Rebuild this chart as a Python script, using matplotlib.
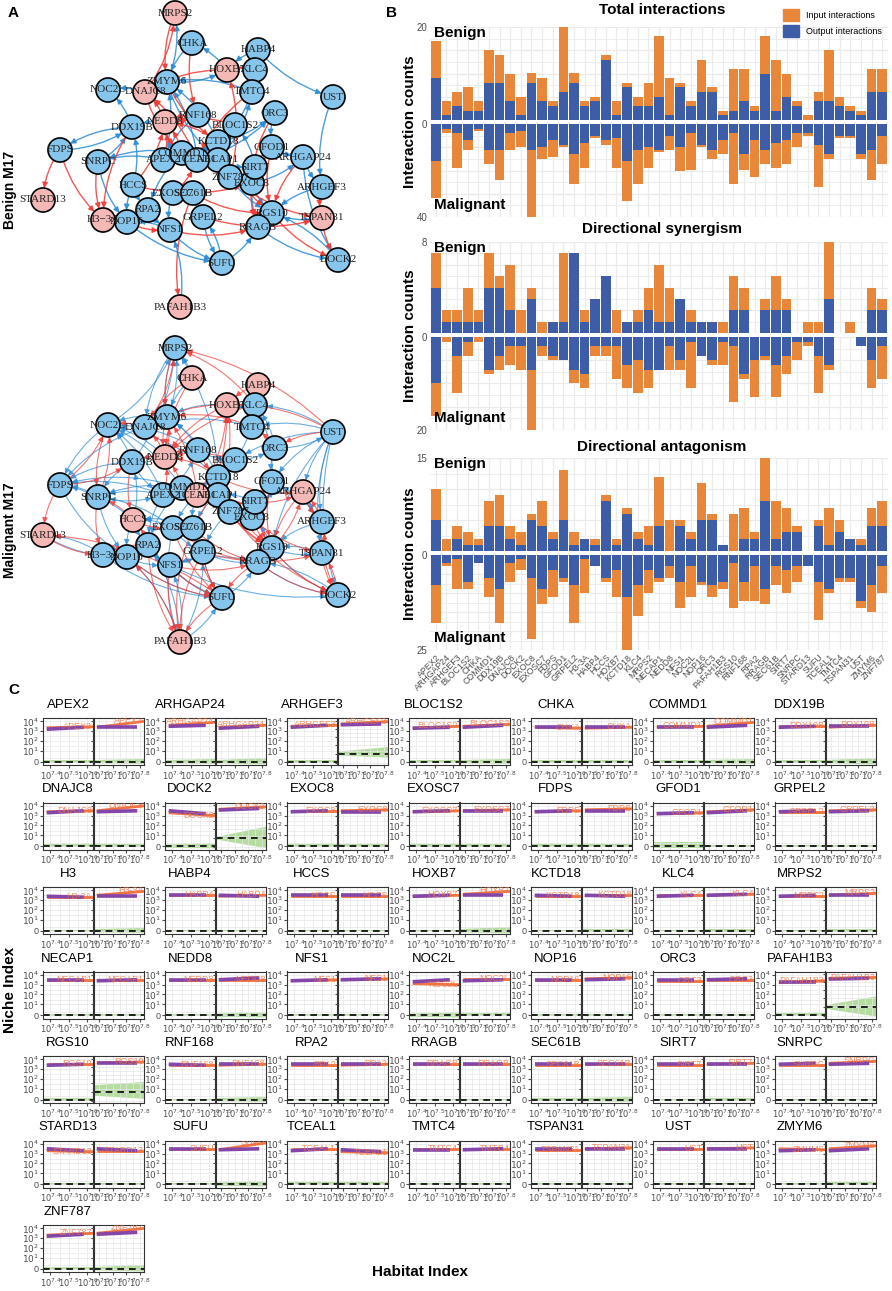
import matplotlib
matplotlib.use('Agg')
import matplotlib.pyplot as plt
from matplotlib.patches import FancyArrowPatch, Patch
from matplotlib.ticker import MultipleLocator, FuncFormatter, FixedLocator, NullFormatter

W, H = 892, 1291
plt.rcParams['font.family'] = ['Liberation Sans', 'DejaVu Sans']
fig = plt.figure(figsize=(W / 100, H / 100), dpi=100)

ORANGE = '#E8873A'
BLUE = '#3D5DA6'
GRID = '#EBEBEB'

genes = ['APEX2', 'ARHGAP24', 'ARHGEF3', 'BLOC1S2', 'CHKA', 'COMMD1', 'DDX19B', 'DNAJC8',
         'DOCK2', 'EXOC8', 'EXOSC7', 'FDPS', 'GFOD1', 'GRPEL2', 'H3-3A', 'HABP4', 'HCCS',
         'HOXB7', 'KCTD18', 'KLC4', 'MRPS2', 'NECAP1', 'NEDD8', 'NFS1', 'NOC2L', 'NOP16',
         'ORC3', 'PAFAH1B3', 'RGS10', 'RNF168', 'RPA2', 'RRAGB', 'SEC61B', 'SIRT7', 'SNRPC',
         'STARD13', 'SUFU', 'TCEAL1', 'TMTC4', 'TSPAN31', 'UST', 'ZMYM6', 'ZNF787']

# ---- panel B data: output (blue) and input (orange) counts
total_benign_out = [9, 1, 3, 2, 2, 8, 8, 4, 1, 8, 4, 3, 6, 8, 3, 4, 13, 1, 7, 3, 3, 5, 1, 7, 3, 6,
                    6, 1, 2, 4, 2, 10, 2, 5, 3, 0, 4, 4, 3, 2, 1, 6, 6]
total_benign_in = [8, 3, 3, 5, 2, 7, 6, 6, 4, 2, 5, 1, 14, 2, 1, 1, 1, 3, 1, 2, 5, 13, 8, 1, 1, 7,
                   1, 1, 9, 7, 1, 8, 11, 5, 1, 1, 2, 11, 2, 1, 1, 5, 5]
total_malig_out = [16, 2, 4, 7, 2, 11, 11, 4, 3, 11, 10, 7, 9, 13, 8, 5, 7, 6, 16, 11, 10, 11, 5,
                   10, 4, 9, 11, 7, 4, 13, 7, 11, 8, 7, 4, 4, 9, 13, 5, 5, 13, 11, 5]
total_malig_in = [16, 2, 15, 4, 1, 6, 13, 7, 7, 29, 5, 7, 1, 13, 11, 1, 2, 13, 17, 15, 9, 1, 6,
                  10, 16, 1, 4, 6, 22, 7, 16, 6, 11, 10, 6, 1, 18, 2, 1, 1, 2, 13, 12]

syn_benign_out = [4, 1, 1, 1, 1, 4, 4, 2, 0, 3, 0, 1, 1, 7, 1, 3, 5, 0, 1, 1, 2, 1, 1, 3, 1, 1,
                  1, 0, 2, 2, 0, 2, 2, 2, 0, 0, 0, 3, 0, 0, 0, 2, 2]
syn_benign_in = [3, 1, 1, 3, 1, 3, 1, 4, 2, 1, 1, 0, 6, 0, 1, 0, 0, 2, 0, 1, 2, 5, 3, 0, 1, 0,
                 0, 1, 3, 2, 0, 1, 3, 1, 0, 1, 1, 5, 0, 1, 0, 2, 1]
syn_malig_out = [10, 0, 4, 1, 0, 7, 4, 2, 2, 7, 2, 4, 5, 7, 8, 2, 2, 2, 6, 5, 7, 7, 2, 5, 1, 4,
                 5, 1, 2, 8, 5, 4, 6, 4, 1, 1, 4, 6, 0, 0, 2, 5, 2]
syn_malig_in = [7, 1, 8, 3, 1, 1, 3, 4, 5, 13, 2, 1, 0, 3, 3, 2, 2, 7, 5, 7, 4, 0, 5, 2, 10, 0,
                1, 5, 12, 1, 8, 1, 7, 4, 4, 1, 8, 1, 0, 0, 0, 6, 7]

ant_benign_out = [5, 0, 2, 1, 1, 4, 4, 2, 1, 5, 4, 2, 5, 1, 2, 1, 8, 1, 6, 2, 1, 4, 0, 4, 2, 5,
                  5, 1, 0, 2, 2, 8, 2, 3, 3, 0, 4, 1, 3, 2, 1, 4, 4]
ant_benign_in = [5, 2, 2, 2, 1, 4, 5, 2, 2, 1, 4, 1, 8, 2, 0, 1, 1, 1, 1, 1, 3, 8, 5, 1, 1, 6,
                 1, 0, 6, 5, 1, 7, 6, 4, 1, 0, 1, 6, 2, 0, 1, 3, 4]
ant_malig_out = [8, 2, 1, 7, 2, 6, 9, 2, 1, 6, 9, 4, 6, 8, 1, 3, 6, 4, 11, 8, 4, 6, 3, 7, 3, 7,
                 8, 7, 2, 7, 3, 9, 3, 4, 3, 3, 7, 9, 6, 6, 12, 8, 3]
ant_malig_in = [10, 1, 8, 2, 0, 5, 9, 5, 3, 16, 4, 7, 1, 10, 9, 0, 1, 7, 14, 8, 6, 1, 3, 7, 8, 1,
                3, 2, 12, 5, 9, 4, 5, 6, 4, 0, 10, 1, 1, 1, 2, 7, 7]

section_titles = ['Total interactions', 'Directional synergism', 'Directional antagonism']
benign_max = [20, 8, 15]
malig_max = [40, 20, 25]

# ---- panel A data: node layout (pixels) and directed edges
node_x = [163, 303, 322, 235, 192, 182, 132, 145, 338, 252, 173, 60, 272, 203, 103, 258, 133,
          227, 218, 255, 175, 218, 165, 170, 108, 127, 275, 180, 272, 198, 148, 258, 193, 255,
          98, 43, 222, 197, 252, 322, 333, 167, 230]
node_y = [160, 157, 187, 125, 43, 153, 127, 92, 260, 183, 193, 150, 147, 217, 220, 50, 185,
          70, 142, 70, 13, 160, 122, 230, 90, 222, 113, 307, 213, 115, 210, 227, 193, 167,
          162, 200, 263, 160, 92, 218, 97, 82, 177]
benign_pink = ['MRPS2', 'HOXB7', 'DNAJC8', 'NEDD8', 'STARD13', 'H3-3A', 'TSPAN31', 'PAFAH1B3']
malig_pink = ['CHKA', 'HABP4', 'HOXB7', 'NEDD8', 'TCEAL1', 'ARHGAP24', 'HCCS', 'STARD13', 'PAFAH1B3']

benign_red = """FDPS>STARD13 FDPS>H3-3A DNAJC8>MRPS2 MRPS2>ZMYM6 NEDD8>DNAJC8 COMMD1>NEDD8
KCTD18>NEDD8 SEC61B>PAFAH1B3 NFS1>RRAGB RGS10>DOCK2 TSPAN31>DOCK2 ARHGEF3>TSPAN31 GFOD1>RGS10
HOXB7>DNAJC8 KLC4>HOXB7 ZNF787>HOXB7 CHKA>RNF168 ZMYM6>KCTD18 APEX2>NEDD8 TCEAL1>DNAJC8
EXOC8>RRAGB HCCS>NEDD8 RPA2>NOP16 NOP16>NFS1 SIRT7>GFOD1 ARHGAP24>RGS10 NECAP1>EXOC8
SEC61B>RGS10 DDX19B>H3-3A BLOC1S2>NEDD8 TMTC4>TCEAL1 EXOSC7>TCEAL1 NEDD8>RNF168 DNAJC8>COMMD1
GRPEL2>TSPAN31 ORC3>EXOC8 KCTD18>RGS10 RNF168>NEDD8 ZNF787>TSPAN31 HCCS>EXOC8 SNRPC>H3-3A"""
benign_blue = """HABP4>UST UST>ARHGEF3 HOXB7>CHKA ZMYM6>MRPS2 DDX19B>FDPS FDPS>DDX19B SNRPC>DDX19B
SNRPC>NOP16 DDX19B>NOC2L HCCS>DDX19B NFS1>SUFU GRPEL2>SUFU NOP16>SUFU RRAGB>DOCK2 APEX2>ZMYM6
TCEAL1>ZMYM6 KCTD18>ZMYM6 TMTC4>ZMYM6 HABP4>HOXB7 BLOC1S2>KLC4 ORC3>GFOD1 GFOD1>ARHGAP24
ARHGAP24>ARHGEF3 ARHGEF3>RGS10 RRAGB>RGS10 SIRT7>RRAGB EXOC8>RGS10 ZNF787>RGS10 NECAP1>TMTC4
SEC61B>GRPEL2 COMMD1>RPA2 RPA2>NFS1 EXOSC7>NFS1 NFS1>NOP16 HCCS>RPA2 KCTD18>BLOC1S2
SIRT7>BLOC1S2 TCEAL1>ORC3 RNF168>APEX2 ZMYM6>NECAP1 APEX2>SNRPC COMMD1>SNRPC NEDD8>DDX19B
DNAJC8>NOC2L RGS10>TSPAN31 DOCK2>RGS10 SUFU>GRPEL2 ZMYM6>HOXB7 KLC4>TMTC4 GFOD1>SIRT7
SEC61B>EXOSC7 COMMD1>KCTD18 PAFAH1B3>NFS1 DNAJC8>ZMYM6 CHKA>ZMYM6 ARHGAP24>DOCK2 SUFU>RRAGB
EXOC8>ARHGAP24 HCCS>NOP16 H3-3A>NOP16 NECAP1>SIRT7 KCTD18>ORC3"""
malig_red = """UST>MRPS2 KLC4>MRPS2 DNAJC8>MRPS2 CHKA>NEDD8 HOXB7>NEDD8 HOXB7>DNAJC8 KLC4>NEDD8
HABP4>HOXB7 UST>HOXB7 FDPS>NOC2L SNRPC>NOC2L NOC2L>SNRPC FDPS>DDX19B SUFU>STARD13 STARD13>H3-3A
RPA2>H3-3A PAFAH1B3>NOP16 NFS1>PAFAH1B3 GRPEL2>PAFAH1B3 SEC61B>PAFAH1B3 RPA2>PAFAH1B3
NOP16>SUFU NFS1>SUFU GRPEL2>SUFU EXOSC7>SUFU RRAGB>SUFU SEC61B>SUFU RGS10>DOCK2 TSPAN31>DOCK2
ARHGEF3>DOCK2 RRAGB>DOCK2 ZNF787>DOCK2 ARHGAP24>RGS10 GFOD1>RGS10 SIRT7>RGS10 EXOC8>RGS10
NECAP1>RGS10 KCTD18>RGS10 ZNF787>RGS10 TCEAL1>EXOC8 COMMD1>NEDD8 KCTD18>NEDD8 APEX2>NEDD8
ZMYM6>NEDD8 RNF168>NEDD8 BLOC1S2>NEDD8 NEDD8>DNAJC8 NEDD8>ZMYM6 TMTC4>ZMYM6 TCEAL1>ZMYM6
ORC3>TMTC4 UST>ORC3 ARHGAP24>ARHGEF3 ARHGEF3>ARHGAP24 TSPAN31>ARHGEF3 HCCS>EXOSC7 HCCS>SNRPC
DDX19B>HCCS RPA2>HCCS NOP16>RPA2 H3-3A>RPA2 SNRPC>H3-3A FDPS>STARD13 COMMD1>APEX2 TCEAL1>SIRT7
NECAP1>ZNF787 ZNF787>EXOC8 SIRT7>EXOC8 GFOD1>SIRT7 BLOC1S2>KCTD18 RNF168>KCTD18 CHKA>DNAJC8
MRPS2>ZMYM6 DNAJC8>NOC2L NEDD8>DDX19B SEC61B>RRAGB EXOSC7>RRAGB NFS1>RRAGB GRPEL2>TSPAN31
EXOC8>TSPAN31 TCEAL1>HOXB7 NECAP1>HOXB7 SEC61B>HOXB7 KCTD18>ARHGAP24 SIRT7>ARHGAP24
RGS10>ARHGAP24 SUFU>PAFAH1B3 DOCK2>TSPAN31"""
malig_blue = """ZMYM6>MRPS2 NOC2L>MRPS2 KCTD18>MRPS2 DDX19B>MRPS2 DNAJC8>FDPS NOC2L>FDPS DDX19B>FDPS
SNRPC>FDPS COMMD1>FDPS APEX2>FDPS HCCS>FDPS NEDD8>NOC2L APEX2>NOC2L COMMD1>NOC2L DDX19B>NOC2L
ZMYM6>NOC2L KCTD18>NOC2L RNF168>NOC2L H3-3A>STARD13 STARD13>NOP16 SNRPC>NOP16 FDPS>NOP16
DDX19B>SNRPC COMMD1>SNRPC APEX2>SNRPC EXOSC7>SNRPC HABP4>KLC4 HOXB7>KLC4 BLOC1S2>KLC4
TMTC4>KLC4 UST>KLC4 UST>TMTC4 UST>GFOD1 UST>ARHGEF3 UST>TSPAN31 UST>ARHGAP24 UST>BLOC1S2
UST>RGS10 UST>DOCK2 ORC3>UST RRAGB>DOCK2 NFS1>DOCK2 RGS10>DOCK2 RGS10>TSPAN31 ARHGEF3>RGS10
ARHGAP24>ARHGEF3 TSPAN31>RGS10 RRAGB>RGS10 SUFU>RRAGB NFS1>SUFU GRPEL2>SUFU NOP16>SUFU
RPA2>SUFU H3-3A>SUFU PAFAH1B3>NFS1 PAFAH1B3>GRPEL2 PAFAH1B3>RPA2 PAFAH1B3>NOP16 PAFAH1B3>SUFU
EXOSC7>PAFAH1B3 NOP16>NFS1 RPA2>NFS1 NFS1>GRPEL2 SEC61B>GRPEL2 EXOSC7>GRPEL2 ZNF787>GRPEL2
COMMD1>RPA2 APEX2>RPA2 HCCS>RPA2 SEC61B>EXOSC7 KCTD18>EXOSC7 NECAP1>SEC61B TCEAL1>SEC61B
ZNF787>SIRT7 EXOC8>SIRT7 GFOD1>EXOC8 ORC3>GFOD1 BLOC1S2>ORC3 KCTD18>BLOC1S2 RNF168>BLOC1S2
NECAP1>KCTD18 TCEAL1>KCTD18 COMMD1>KCTD18 APEX2>RNF168 RNF168>ZMYM6 KCTD18>ZMYM6 ZMYM6>DNAJC8
DNAJC8>ZMYM6 CHKA>ZMYM6 TMTC4>DNAJC8 HOXB7>ZMYM6 NEDD8>DDX19B DDX19B>APEX2 APEX2>COMMD1
SNRPC>APEX2 HCCS>DDX19B EXOSC7>HCCS SEC61B>HCCS ZNF787>NECAP1 SIRT7>NECAP1 EXOC8>ZNF787
RGS10>EXOC8 ARHGAP24>SIRT7 ARHGEF3>GFOD1 TSPAN31>ARHGAP24 DOCK2>RRAGB RRAGB>NFS1 GRPEL2>RRAGB
HCCS>NOP16 NOP16>H3-3A MRPS2>ZMYM6 MRPS2>DNAJC8 CHKA>MRPS2 ORC3>KLC4 GFOD1>KLC4"""

# ---- panel C data: log10 level (start, end) of the fitted lines, green band height (start, end)
purple_benign = [(3.2, 3.4), (3.5, 3.6), (3.4, 3.6), (3.3, 3.4), (3.4, 3.4), (3.4, 3.4), (3.4, 3.5),
                 (3.3, 3.5), (3.5, 3.2), (3.4, 3.5), (3.4, 3.5), (3.4, 3.5), (3.2, 3.3), (3.4, 3.5),
                 (3.4, 3.3), (3.5, 3.5), (3.5, 3.5), (3.4, 3.5), (3.5, 3.4), (3.4, 3.5), (3.4, 3.5),
                 (3.5, 3.5), (3.5, 3.5), (3.4, 3.5), (3.3, 3.5), (3.5, 3.5), (3.5, 3.5), (3.3, 3.3),
                 (3.4, 3.5), (3.5, 3.4), (3.5, 3.5), (3.5, 3.5), (3.5, 3.5), (3.5, 3.5), (3.5, 3.6),
                 (3.5, 3.3), (3.5, 3.5), (3.3, 3.5), (3.4, 3.4), (3.5, 3.5), (3.5, 3.5), (3.3, 3.4),
                 (3.2, 3.4)]
orange_benign = [(3.35, 3.45), (3.6, 3.9), (3.5, 3.6), (3.3, 3.5), (3.4, 3.3), (3.4, 3.5), (3.5, 3.5),
                 (3.4, 3.5), (3.3, 3.0), (3.5, 3.5), (3.4, 3.5), (3.4, 3.5), (3.2, 3.3), (3.4, 3.4),
                 (3.3, 3.3), (3.5, 3.5), (3.4, 3.4), (3.4, 3.5), (3.4, 3.4), (3.5, 3.5), (3.4, 3.4),
                 (3.5, 3.5), (3.5, 3.5), (3.4, 3.5), (3.1, 3.0), (3.5, 3.5), (3.4, 3.4), (3.2, 3.4),
                 (3.5, 3.5), (3.4, 3.4), (3.4, 3.4), (3.5, 3.5), (3.4, 3.4), (3.4, 3.4), (3.4, 3.4),
                 (3.3, 3.2), (3.5, 3.5), (3.5, 3.5), (3.5, 3.5), (3.4, 3.4), (3.5, 3.5), (3.5, 3.4),
                 (3.3, 3.5)]
purple_malig = [(3.4, 3.4), (3.3, 3.5), (3.5, 3.6), (3.4, 3.6), (3.4, 3.4), (3.4, 3.6), (3.5, 3.5),
                (3.4, 3.5), (3.4, 3.6), (3.4, 3.4), (3.5, 3.5), (3.5, 3.5), (3.3, 3.5), (3.4, 3.5),
                (3.4, 3.4), (3.5, 3.4), (3.5, 3.5), (3.5, 3.5), (3.5, 3.4), (3.5, 3.6), (3.5, 3.5),
                (3.4, 3.5), (3.5, 3.7), (3.5, 3.6), (3.4, 3.5), (3.5, 3.6), (3.5, 3.6), (3.4, 3.5),
                (3.5, 3.5), (3.5, 3.5), (3.5, 3.5), (3.5, 3.5), (3.5, 3.5), (3.5, 3.5), (3.5, 3.6),
                (3.5, 3.3), (3.4, 3.5), (3.4, 3.2), (3.4, 3.5), (3.5, 3.5), (3.5, 3.5), (3.3, 3.5),
                (3.4, 3.6)]
orange_malig = [(3.4, 4.0), (3.4, 3.6), (3.6, 3.9), (3.5, 3.7), (3.3, 3.4), (3.5, 3.9), (3.4, 3.6),
                (3.5, 4.0), (3.5, 3.8), (3.5, 3.6), (3.5, 3.6), (3.6, 3.7), (3.4, 3.6), (3.5, 3.6),
                (3.5, 3.9), (3.4, 3.5), (3.4, 3.4), (3.6, 3.9), (3.5, 3.5), (3.5, 3.6), (3.5, 3.7),
                (3.5, 3.5), (3.5, 3.5), (3.5, 3.6), (3.6, 3.6), (3.6, 3.7), (3.5, 3.5), (3.5, 3.6),
                (3.5, 3.6), (3.4, 3.5), (3.4, 3.5), (3.5, 3.5), (3.5, 3.5), (3.5, 3.6), (3.6, 3.8),
                (3.3, 3.3), (3.4, 4.1), (3.2, 3.1), (3.5, 3.5), (3.5, 3.6), (3.5, 3.6), (3.5, 3.8),
                (3.5, 4.0)]
green_benign = [(2, 2), (2, 3), (2, 2), (2, 2), (2, 2), (2, 2), (2, 2), (2, 2), (2, 3), (2, 2),
                (2, 2), (2, 2), (4, 4), (1, 1), (1, 1), (1, 1), (1, 1), (1, 1), (1, 1), (1, 1),
                (1, 1), (1, 1), (1, 1), (1, 1), (2, 3), (1, 1), (1, 1), (2, 2), (2, 2), (1, 1),
                (1, 1), (1, 1), (2, 2), (1, 1), (1, 1), (1, 1), (1, 1), (2, 2), (1, 1), (1, 1),
                (1, 1), (1, 1), (2, 2)]
green_malig = [(2, 3), (2, 4), (3, 8), (2, 3), (2, 2), (2, 3), (2, 4), (2, 2), (2, 25), (2, 2),
               (2, 2), (2, 2), (1, 1), (1, 1), (2, 3), (1, 1), (1, 1), (2, 4), (2, 2), (2, 2),
               (2, 2), (1, 1), (2, 3), (1, 1), (2, 2), (1, 1), (1, 1), (3, 20), (8, 15), (2, 3),
               (1, 1), (1, 1), (2, 3), (2, 2), (1, 1), (1, 1), (2, 3), (2, 2), (1, 1), (1, 1),
               (1, 1), (2, 2), (2, 4)]
habitat_benign = [7.4, 7.5, 7.6]
habitat_malig = [7.5, 7.6, 7.7, 7.8]


def px_axes(x0, y0, x1, y1):
    return fig.add_axes([x0 / W, 1 - y1 / H, (x1 - x0) / W, (y1 - y0) / H])


def px_text(x, y, s, **kw):
    fig.text(x / W, 1 - y / H, s, **kw)


# ================= panel A
def draw_net(top, bottom, pink, red_edges, blue_edges, lw, alpha):
    ax = px_axes(0, top, 395, bottom)
    ax.set_xlim(0, 395)
    ax.set_ylim(bottom - top, 0)
    ax.axis('off')
    for edges, col in [(blue_edges, '#2B8CD6'), (red_edges, '#EF3B36')]:
        for e in edges.split():
            a, b = e.split('>')
            ia, ib = genes.index(a), genes.index(b)
            arr = FancyArrowPatch((node_x[ia], node_y[ia]), (node_x[ib], node_y[ib]),
                                  connectionstyle='arc3,rad=0.15', arrowstyle='-|>',
                                  mutation_scale=8, shrinkA=8, shrinkB=8.5,
                                  lw=lw, color=col, alpha=alpha, zorder=1)
            ax.add_patch(arr)
    cols = ['#F4B8B6' if g in pink else '#87C6EC' for g in genes]
    ax.scatter(node_x, node_y, s=300, c=cols, edgecolors='black', linewidths=1.2, zorder=3)
    for g, x, y in zip(genes, node_x, node_y):
        ax.text(x, y, g.replace('-', '\u2212'), ha='center', va='center', fontsize=8,
                family=['Liberation Serif', 'DejaVu Serif'], color='#222222', zorder=4)


draw_net(0, 335, benign_pink, benign_red, benign_blue, 1.0, 0.85)
draw_net(335, 680, malig_pink, malig_red, malig_blue, 0.8, 0.7)
px_text(8, 13, 'A', fontsize=11, fontweight='bold', va='center')
px_text(10, 190, 'Benign M17', fontsize=10, fontweight='bold', rotation=90, ha='center', va='center')
px_text(10, 530, 'Malignant M17', fontsize=10, fontweight='bold', rotation=90, ha='center', va='center')

# ================= panel B
px_text(386, 13, 'B', fontsize=11, fontweight='bold', va='center')
benign_sets = [(total_benign_out, total_benign_in), (syn_benign_out, syn_benign_in),
               (ant_benign_out, ant_benign_in)]
malig_sets = [(total_malig_out, total_malig_in), (syn_malig_out, syn_malig_in),
              (ant_malig_out, ant_malig_in)]
rows_px = [(27, 120, 124, 217), (242, 333, 337, 430), (458, 551, 555, 650)]
title_y = [10, 229, 447]
grid_step = [(5, 10), (2, 5), (5, 5)]
xs = list(range(len(genes)))

for k in range(3):
    b0, b1, m0, m1 = rows_px[k]
    for half in range(2):
        if half == 0:
            ax = px_axes(430, b0, 888, b1)
            out, inp = benign_sets[k]
            lim = benign_max[k]
            ax.set_ylim(0, lim)
            fmt = FuncFormatter(lambda v, p, lim=lim: f'{v:g}' if abs(v - lim) < 1e-6 else '')
        else:
            ax = px_axes(430, m0, 888, m1)
            out, inp = malig_sets[k]
            lim = malig_max[k]
            ax.set_ylim(lim, 0)
            fmt = FuncFormatter(lambda v, p, lim=lim: f'{v:g}' if (abs(v - lim) < 1e-6 or v == 0) else '')
        ax.bar(xs, out, width=0.9, color=BLUE, zorder=2)
        ax.bar(xs, inp, bottom=out, width=0.9, color=ORANGE, zorder=2)
        ax.set_xlim(-0.55, len(genes) - 0.45)
        ax.yaxis.set_major_locator(MultipleLocator(grid_step[k][half]))
        ax.yaxis.set_minor_locator(MultipleLocator(grid_step[k][half] / 2))
        ax.yaxis.set_major_formatter(fmt)
        ax.set_xticks(xs)
        ax.grid(True, which='major', color=GRID, lw=0.9, zorder=0)
        ax.grid(True, which='minor', axis='y', color=GRID, lw=0.6, zorder=0)
        ax.set_axisbelow(True)
        ax.tick_params(axis='both', which='both', length=0, labelsize=7, colors='#4D4D4D', pad=2)
        for s in ax.spines.values():
            s.set_visible(False)
        if k == 2 and half == 1:
            ax.set_xticklabels(genes, rotation=45, ha='right', rotation_mode='anchor', fontsize=6.3)
        else:
            ax.set_xticklabels([])
    px_text(434, b0 + 6, 'Benign', fontsize=11, fontweight='bold', va='center')
    px_text(434, m1 - 12, 'Malignant', fontsize=11, fontweight='bold', va='center')
    px_text(662, title_y[k], section_titles[k], fontsize=11, fontweight='bold', ha='center', va='center')
    px_text(410, (b0 + m1) / 2, 'Interaction counts', fontsize=11, fontweight='bold',
            rotation=90, ha='center', va='center')

fig.legend(handles=[Patch(color=ORANGE, label='Input interactions'),
                    Patch(color=BLUE, label='Output interactions')],
           loc='upper right', bbox_to_anchor=(890 / W, 1 - 1 / H), frameon=False, fontsize=6.5,
           handlelength=1.7, handleheight=1.7, labelspacing=0.4, handletextpad=0.8)

# ================= panel C
px_text(8, 690, 'C', fontsize=11, fontweight='bold', va='center')
ytick_vals = [0, 10, 100, 1000, 10000]
ytick_labs = ['0', '$10^{1}$', '$10^{2}$', '$10^{3}$', '$10^{4}$']

for g, name in enumerate(genes):
    r, c = divmod(g, 7)
    L = 43 + 122 * c
    T = 718 + 84.5 * r
    px_text(L + 25, T - 13, name if name != 'H3-3A' else 'H3', fontsize=9.5, ha='center', va='center')
    parts = [(habitat_benign, purple_benign[g], orange_benign[g], green_benign[g]),
             (habitat_malig, purple_malig[g], orange_malig[g], green_malig[g])]
    for k, (hx, pur, ora, grn) in enumerate(parts):
        ax = px_axes(L + 51 * k, T, L + 51 * k + 50, T + 47)
        x0, x1 = hx[0] - 0.04, hx[-1] + 0.03
        ax.set_yscale('symlog', linthresh=10, linscale=1)
        low = -20 if max(grn) >= 8 else -3
        ax.set_ylim(low, 22000)
        ax.set_xlim(x0, x1)
        ax.fill_between([x0, x1], [-0.5 * min(v, 24) for v in grn], list(grn),
                        color='#A8D890', alpha=0.85, lw=0, zorder=1)
        ax.axhline(0, color='black', lw=1.2, ls=(0, (4, 3)), zorder=2)
        ox = [hx[0] - 0.02, x1]
        px_ = [hx[0] - 0.02, hx[-1] - 0.02]
        ax.plot(ox, [10 ** ora[0], 10 ** ora[1]], color='#F07342', lw=2.0, zorder=3, solid_capstyle='butt')
        ax.plot(px_, [10 ** pur[0], 10 ** pur[1]], color='#8446A8', lw=2.6, zorder=4, solid_capstyle='butt')
        ax.text(x1 - 0.005, 10 ** (ora[1] + 0.05), name, color='#F07342', fontsize=6.5, ha='right',
                va='center', alpha=0.8, clip_on=True, zorder=5)
        yt = ytick_vals if low > -10 else [-10] + ytick_vals
        yl = ytick_labs if low > -10 else ['$-10^{1}$'] + ytick_labs
        ax.yaxis.set_major_locator(FixedLocator(yt))
        ax.yaxis.set_minor_locator(FixedLocator([3, 30, 300, 3000]))
        ax.yaxis.set_minor_formatter(NullFormatter())
        ax.set_xticks(hx)
        ax.set_xticks([v + 0.05 for v in hx[:-1]], minor=True)
        ax.set_xticklabels(['$10^{%g}$' % v for v in hx], fontsize=6)
        if k == 0:
            ax.set_yticklabels(yl, fontsize=6.5)
        else:
            ax.set_yticklabels([])
        ax.grid(True, which='both', color='#E6E6E6', lw=0.5, zorder=0)
        ax.tick_params(axis='both', which='major', length=2, pad=1, colors='#4D4D4D')
        ax.tick_params(axis='both', which='minor', length=0)
        for s in ax.spines.values():
            s.set_color('#333333')
            s.set_linewidth(0.8)

px_text(10, 990, 'Niche Index', fontsize=11, fontweight='bold', rotation=90, ha='center', va='center')
px_text(420, 1272, 'Habitat Index', fontsize=11, fontweight='bold', ha='center', va='center')

fig.savefig('out.png', dpi=100)
